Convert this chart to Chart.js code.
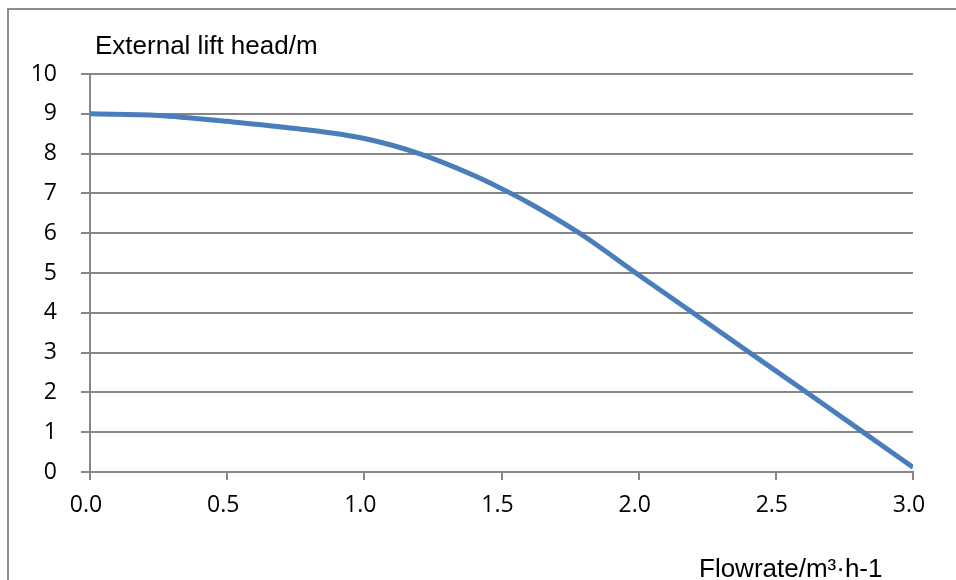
<!DOCTYPE html>
<html>
<head>
<meta charset="utf-8">
<script src="https://cdn.jsdelivr.net/npm/chart.js@4/dist/chart.umd.min.js"></script>
<style>
  body { margin: 0; background: #fff; }
  #wrap { position: relative; width: 956px; height: 580px; overflow: hidden; }
  #frame { position: absolute; left: 7px; top: 8px; width: 1000px; height: 700px; border: 2px solid #8c8c8c; }
  canvas { position: absolute; left: 0; top: 0; }
</style>
</head>
<body>
<div id="wrap">
  <div id="frame"></div>
  <canvas id="pumpChart" width="956" height="580"></canvas>
</div>
<script>
// pump curve
const flowRates = [0, 0.25, 0.5, 0.75, 1.0, 1.2, 1.4, 1.5, 1.6, 1.7, 1.8, 2.0, 2.2, 2.4, 2.6, 2.8, 3.0];
const heads = [9.0, 8.96, 8.81, 8.63, 8.38, 8.0, 7.45, 7.12, 6.76, 6.36, 5.93, 4.95, 3.99, 3.02, 2.06, 1.09, 0.12];
const yTitle = "External lift head/m";
const xTitle = "Flowrate/m\u00b3\u00b7h-1";

const gridGray = "#878787";

// draws the two axis captions where the original has them
const captions = {
    id: "captions",
    afterDraw(chart) {
        const c = chart.ctx;
        c.save();
        c.fillStyle = "#000";
        c.font = "26px 'Liberation Sans', Arial, sans-serif";
        c.textBaseline = "alphabetic";
        c.textAlign = "left";
        c.fillText(yTitle, 95, 54);
        c.fillText(xTitle, 699, 577);
        c.restore();
    }
};

new Chart(document.getElementById("pumpChart"), {
    type: "line",
    data: {
        datasets: [{
            label: "Head",
            data: flowRates.map((f, i) => ({ x: f, y: heads[i] })),
            borderColor: "#4a7ebb",
            borderWidth: 5,
            pointRadius: 0,
            fill: false,
            cubicInterpolationMode: "monotone",
            borderCapStyle: "butt"
        }]
    },
    options: {
        responsive: false,
        animation: false,
        devicePixelRatio: 1,
        layout: { padding: { left: 0, top: 74, right: 43, bottom: 0 } },
        plugins: {
            legend: { display: false },
            tooltip: { enabled: false }
        },
        scales: {
            x: {
                type: "linear",
                min: 0,
                max: 3,
                afterFit(scale) { scale.height = 108; },
                grid: { drawOnChartArea: false, drawTicks: true, tickLength: 8, color: gridGray, lineWidth: 2 },
                border: { display: true, color: gridGray, width: 2 },
                ticks: {
                    stepSize: 0.5,
                    padding: 12,
                    labelOffset: -4,
                    color: "#000",
                    font: { family: "'Open Sans', sans-serif", size: 23 },
                    callback: v => v.toFixed(1)
                }
            },
            y: {
                min: 0,
                max: 10,
                afterFit(scale) { scale.width = 90; },
                grid: { drawTicks: true, tickLength: 9, color: gridGray, lineWidth: 2 },
                border: { display: true, color: gridGray, width: 2 },
                ticks: {
                    stepSize: 1,
                    padding: 24,
                    color: "#000",
                    font: { family: "'Open Sans', sans-serif", size: 23 }
                }
            }
        }
    },
    plugins: [captions]
});
</script>
</body>
</html>
